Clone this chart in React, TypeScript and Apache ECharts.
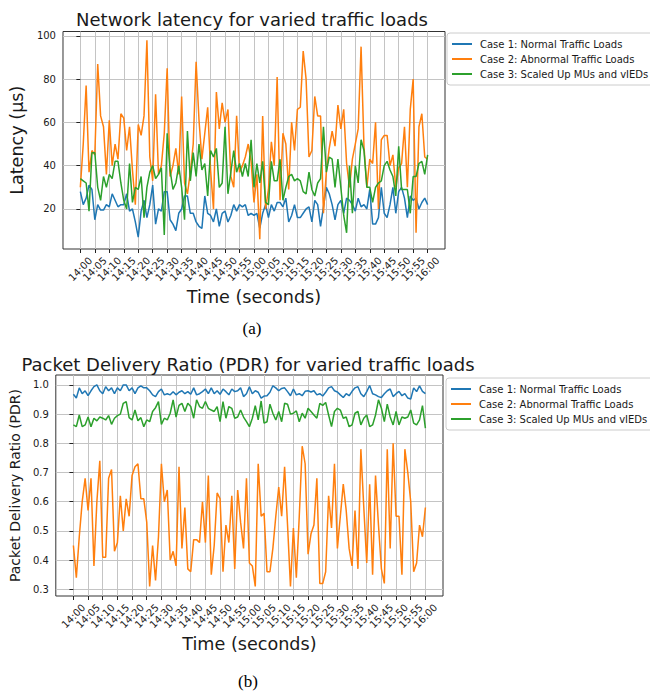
import React, { useEffect, useRef } from "react";
import * as echarts from "echarts";

// x positions are minutes after 14:00, one sample per minute
const tickMinutes = [0, 5, 10, 15, 20, 25, 30, 35, 40, 45, 50, 55, 60, 65, 70, 75, 80, 85, 90, 95, 100, 105, 110, 115, 120];
const tickLabels = ["14:00", "14:05", "14:10", "14:15", "14:20", "14:25", "14:30", "14:35", "14:40", "14:45", "14:50", "14:55", "15:00", "15:05", "15:10", "15:15", "15:20", "15:25", "15:30", "15:35", "15:40", "15:45", "15:50", "15:55", "16:00"];
const latencyTicks = [20, 40, 60, 80, 100];
const pdrTicks = [0.3, 0.4, 0.5, 0.6, 0.7, 0.8, 0.9, 1.0];

const seriesNames = ["Case 1: Normal Traffic Loads", "Case 2: Abnormal Traffic Loads", "Case 3: Scaled Up MUs and vIEDs"];
const colors = ["#1f77b4", "#ff7f0e", "#2ca02c"];

const latencyCase1 = [28, 22, 25, 31, 29, 15, 22, 19.5, 19.5, 22, 21, 27, 24, 21, 22, 22, 27, 19, 20, 14, 7, 19, 24, 16, 22, 31, 13, 20, 19, 28, 28, 15, 13, 10, 18, 20, 26, 26, 18, 18, 14, 12, 11, 26, 18, 17, 14, 20, 12, 18, 19, 14, 17, 22, 19, 22, 21, 22, 17, 18, 17, 18, 11, 18, 22, 16, 22, 19, 23, 23, 21, 25, 14, 17, 22, 16, 16, 18, 20, 21, 14, 24, 22, 12, 21, 30, 27, 22, 15, 22, 24, 18, 25, 24, 22, 19, 25, 21, 22, 20, 29, 13, 13, 16, 30, 18, 16, 22, 30, 18, 28, 30, 25, 16, 26, 24, 25, 20, 23, 25, 22];
const latencyCase2 = [30, 50, 77, 37, 47, 45, 87, 63, 58, 36, 61, 40, 50, 43, 64, 62, 47, 58, 38, 22, 59, 54, 63, 98, 44, 33, 73, 36, 40, 55, 85, 35, 40, 48, 36, 72, 32, 27, 37, 50, 88, 61, 43, 55, 67, 38, 20, 74, 57, 69, 60, 66, 35, 30, 63, 37, 40, 44, 50, 42, 23, 36, 6, 63, 20, 29, 51, 40, 81, 24, 55, 50, 29, 60, 47, 66, 67, 93, 80, 44, 47, 72, 63, 63, 18, 37, 48, 56, 49, 68, 57, 66, 41, 30, 43, 50, 57, 95, 49, 30, 43, 41, 60, 20, 52, 54, 54, 40, 45, 30, 39, 41, 58, 30, 66, 80, 9, 58, 64, 44, 43];
const latencyCase3 = [34, 33, 32, 19, 46, 46, 30, 24, 35, 30, 36, 34, 42, 42, 32, 24, 20, 41, 23, 30, 29, 35, 16, 30, 37, 40, 34, 36, 39, 8, 55, 38, 29, 32, 40, 30, 15, 56, 33, 46, 35, 50, 38, 41, 26, 47, 44, 48, 30, 32, 58, 27, 37, 47, 37, 41, 35, 41, 35, 52, 30, 41, 32, 42, 23, 22, 42, 33, 33, 43, 24, 30, 35, 36, 33, 34, 33, 28, 27, 37, 29, 26, 32, 34, 58, 37, 44, 43, 30, 43, 30, 17, 9, 40, 18, 40, 32, 52, 47, 30, 30, 23, 30, 32, 33, 40, 42, 38, 35, 26, 49, 29, 29, 29, 18, 35, 35, 41, 42, 36, 45];

const pdrCase1 = [0.968, 0.955, 0.99, 0.97, 0.98, 0.963, 0.98, 0.994, 1.0, 0.98, 0.97, 0.994, 0.98, 0.99, 0.97, 0.99, 0.98, 1.0, 1.0, 0.98, 0.99, 0.97, 0.99, 0.997, 0.99, 0.99, 0.98, 0.966, 0.96, 0.977, 0.986, 0.966, 0.97, 0.966, 0.977, 0.966, 0.975, 0.98, 0.97, 0.977, 0.968, 0.99, 0.966, 0.97, 0.977, 0.986, 0.97, 0.99, 0.97, 0.98, 0.968, 0.986, 0.977, 0.966, 0.986, 0.977, 0.98, 0.99, 0.96, 0.97, 0.994, 0.97, 0.98, 0.975, 0.955, 0.962, 0.963, 0.975, 0.997, 0.99, 0.98, 0.988, 0.99, 0.977, 0.963, 0.986, 0.966, 0.97, 0.963, 0.978, 0.98, 0.976, 0.98, 0.966, 0.97, 0.962, 0.975, 0.99, 0.994, 0.98, 0.976, 0.966, 0.957, 0.97, 0.963, 0.978, 0.99, 0.994, 0.97, 0.96, 0.977, 0.998, 0.97, 0.966, 0.96, 0.957, 0.97, 0.98, 0.986, 0.96, 0.97, 0.978, 0.963, 0.97, 0.955, 0.952, 0.99, 0.977, 0.997, 0.978, 0.97];
const pdrCase2 = [0.45, 0.34, 0.48, 0.6, 0.68, 0.57, 0.68, 0.38, 0.6, 0.74, 0.41, 0.41, 0.68, 0.71, 0.43, 0.46, 0.62, 0.5, 0.61, 0.55, 0.69, 0.72, 0.73, 0.61, 0.61, 0.53, 0.31, 0.45, 0.33, 0.48, 0.73, 0.6, 0.64, 0.4, 0.43, 0.38, 0.72, 0.44, 0.58, 0.37, 0.36, 0.47, 0.47, 0.46, 0.6, 0.46, 0.69, 0.35, 0.45, 0.63, 0.61, 0.36, 0.52, 0.46, 0.62, 0.37, 0.64, 0.53, 0.44, 0.68, 0.39, 0.38, 0.31, 0.73, 0.55, 0.56, 0.36, 0.36, 0.44, 0.55, 0.65, 0.55, 0.72, 0.52, 0.31, 0.51, 0.34, 0.55, 0.79, 0.73, 0.42, 0.49, 0.52, 0.68, 0.32, 0.32, 0.36, 0.62, 0.51, 0.73, 0.44, 0.55, 0.66, 0.57, 0.44, 0.38, 0.57, 0.37, 0.78, 0.58, 0.39, 0.66, 0.35, 0.69, 0.52, 0.37, 0.32, 0.78, 0.44, 0.8, 0.55, 0.55, 0.35, 0.78, 0.7, 0.6, 0.36, 0.39, 0.52, 0.48, 0.58];
const pdrCase3 = [0.863, 0.857, 0.897, 0.857, 0.863, 0.89, 0.857, 0.886, 0.877, 0.89, 0.886, 0.88, 0.895, 0.865, 0.886, 0.895, 0.9, 0.937, 0.943, 0.888, 0.88, 0.914, 0.877, 0.888, 0.857, 0.88, 0.874, 0.909, 0.922, 0.943, 0.865, 0.886, 0.88, 0.903, 0.949, 0.89, 0.93, 0.937, 0.909, 0.937, 0.926, 0.886, 0.949, 0.926, 0.92, 0.943, 0.92, 0.914, 0.909, 0.926, 0.874, 0.943, 0.886, 0.926, 0.92, 0.886, 0.89, 0.914, 0.89, 0.874, 0.857, 0.886, 0.929, 0.88, 0.945, 0.869, 0.874, 0.934, 0.903, 0.88, 0.909, 0.874, 0.937, 0.934, 0.9, 0.903, 0.911, 0.874, 0.903, 0.886, 0.92, 0.909, 0.897, 0.886, 0.937, 0.93, 0.94, 0.897, 0.857, 0.909, 0.92, 0.914, 0.886, 0.89, 0.857, 0.863, 0.903, 0.909, 0.863, 0.886, 0.897, 0.857, 0.863, 0.897, 0.949, 0.92, 0.874, 0.934, 0.89, 0.863, 0.909, 0.863, 0.89, 0.886, 0.89, 0.914, 0.869, 0.863, 0.88, 0.929, 0.852];

const FONT = "DejaVu Sans";
const TEXT = "#1a1a1a";

function pairs(values: number[]) {
  return values.map((v, i) => [i, v]);
}

function timeLabel(v: number) {
  const idx = tickMinutes.indexOf(Math.round(v));
  return idx >= 0 ? tickLabels[idx] : "";
}

function xAxisFor(gridIndex: number, nameGap: number) {
  return {
    type: "value",
    gridIndex,
    min: -6,
    max: 126,
    axisLine: { show: false },
    axisTick: { show: true, length: 4, customValues: tickMinutes, lineStyle: { color: "#222", width: 1 } },
    axisLabel: {
      customValues: tickMinutes,
      formatter: (v: number) => timeLabel(v),
      rotate: 45,
      align: "center",
      verticalAlign: "middle",
      margin: 20,
      fontSize: 10,
      fontFamily: FONT,
      color: TEXT,
    },
    splitLine: { show: true, lineStyle: { color: "#c4c4c4", width: 1 } },
    name: "Time (seconds)",
    nameLocation: "middle",
    nameGap,
    nameTextStyle: { fontSize: 17.6, fontFamily: FONT, color: TEXT },
  };
}

export default function App() {
  const ref = useRef<HTMLDivElement>(null);

  useEffect(() => {
    if (!ref.current) return;
    const chart = echarts.init(ref.current, undefined, { renderer: "svg" });

    const lineSeries = (name: string, color: string, values: number[], idx: number) => ({
      type: "line",
      name,
      xAxisIndex: idx,
      yAxisIndex: idx,
      data: pairs(values),
      showSymbol: false,
      symbol: "none",
      lineStyle: { color, width: 1.5 },
      itemStyle: { color },
      emphasis: { disabled: true },
    });

    const legendCommon = {
      orient: "vertical",
      icon: "rect",
      itemWidth: 20,
      itemHeight: 2,
      itemGap: 3,
      padding: [5, 30, 5, 5],
      borderColor: "#cccccc",
      borderWidth: 1,
      borderRadius: 3,
      backgroundColor: "rgba(255,255,255,0.8)",
      textStyle: { fontSize: 10, fontFamily: FONT, color: TEXT, lineHeight: 12, padding: [0, 0, 0, 3] },
      data: seriesNames,
      selectedMode: false,
    };

    chart.setOption({
      animation: false,
      backgroundColor: "#ffffff",
      grid: [
        { left: 58, top: 31.5, width: 387, height: 217.5, show: true, borderColor: "#333", borderWidth: 1, backgroundColor: "transparent" },
        { left: 52, top: 375, width: 391, height: 221, show: true, borderColor: "#333", borderWidth: 1, backgroundColor: "transparent" },
      ],
      xAxis: [xAxisFor(0, 39), xAxisFor(1, 39)],
      yAxis: [
        {
          type: "value",
          gridIndex: 0,
          min: 1.5,
          max: 102,
          axisLine: { show: false },
          axisTick: { show: true, length: 4, customValues: latencyTicks, lineStyle: { color: "#222" } },
          axisLabel: { customValues: latencyTicks, margin: 7, fontSize: 10, fontFamily: FONT, color: TEXT },
          splitLine: { show: true, lineStyle: { color: "#c4c4c4", width: 1 } },
          name: "Latency (µs)",
          nameLocation: "middle",
          nameGap: 30,
          nameTextStyle: { fontSize: 17.6, fontFamily: FONT, color: TEXT },
        },
        {
          type: "value",
          gridIndex: 1,
          min: 0.277,
          max: 1.034,
          axisLine: { show: false },
          axisTick: { show: true, length: 4, customValues: pdrTicks, lineStyle: { color: "#222" } },
          axisLabel: { customValues: pdrTicks, margin: 7, fontSize: 10, fontFamily: FONT, color: TEXT, formatter: (v: number) => v.toFixed(1) },
          splitLine: { show: true, lineStyle: { color: "#c4c4c4", width: 1 } },
          name: "Packet Delivery Ratio (PDR)",
          nameLocation: "middle",
          nameGap: 26,
          nameTextStyle: { fontSize: 14, fontFamily: FONT, color: TEXT },
        },
      ],
      legend: [
        { ...legendCommon, left: 447, top: 33 },
        { ...legendCommon, left: 446, top: 378 },
      ],
      graphic: [
        { type: "text", x: 252, y: 19, style: { text: "Network latency for varied traffic loads", align: "center", verticalAlign: "middle", font: `18px "${FONT}"`, fill: TEXT } },
        { type: "text", x: 248, y: 364, style: { text: "Packet Delivery Ratio (PDR) for varied traffic loads", align: "center", verticalAlign: "middle", font: `18px "${FONT}"`, fill: TEXT } },
        { type: "text", x: 252, y: 328, style: { text: "(a)", align: "center", verticalAlign: "middle", font: `17px "Liberation Serif"`, fill: "#000" } },
        { type: "text", x: 248, y: 681, style: { text: "(b)", align: "center", verticalAlign: "middle", font: `17px "Liberation Serif"`, fill: "#000" } },
      ],
      series: [
        lineSeries(seriesNames[0], colors[0], latencyCase1, 0),
        lineSeries(seriesNames[1], colors[1], latencyCase2, 0),
        lineSeries(seriesNames[2], colors[2], latencyCase3, 0),
        lineSeries(seriesNames[0], colors[0], pdrCase1, 1),
        lineSeries(seriesNames[1], colors[1], pdrCase2, 1),
        lineSeries(seriesNames[2], colors[2], pdrCase3, 1),
      ],
    });

    return () => chart.dispose();
  }, []);

  return <div ref={ref} style={{ position: "fixed", left: 0, top: 0, width: 650, height: 691, background: "#fff" }} />;
}
